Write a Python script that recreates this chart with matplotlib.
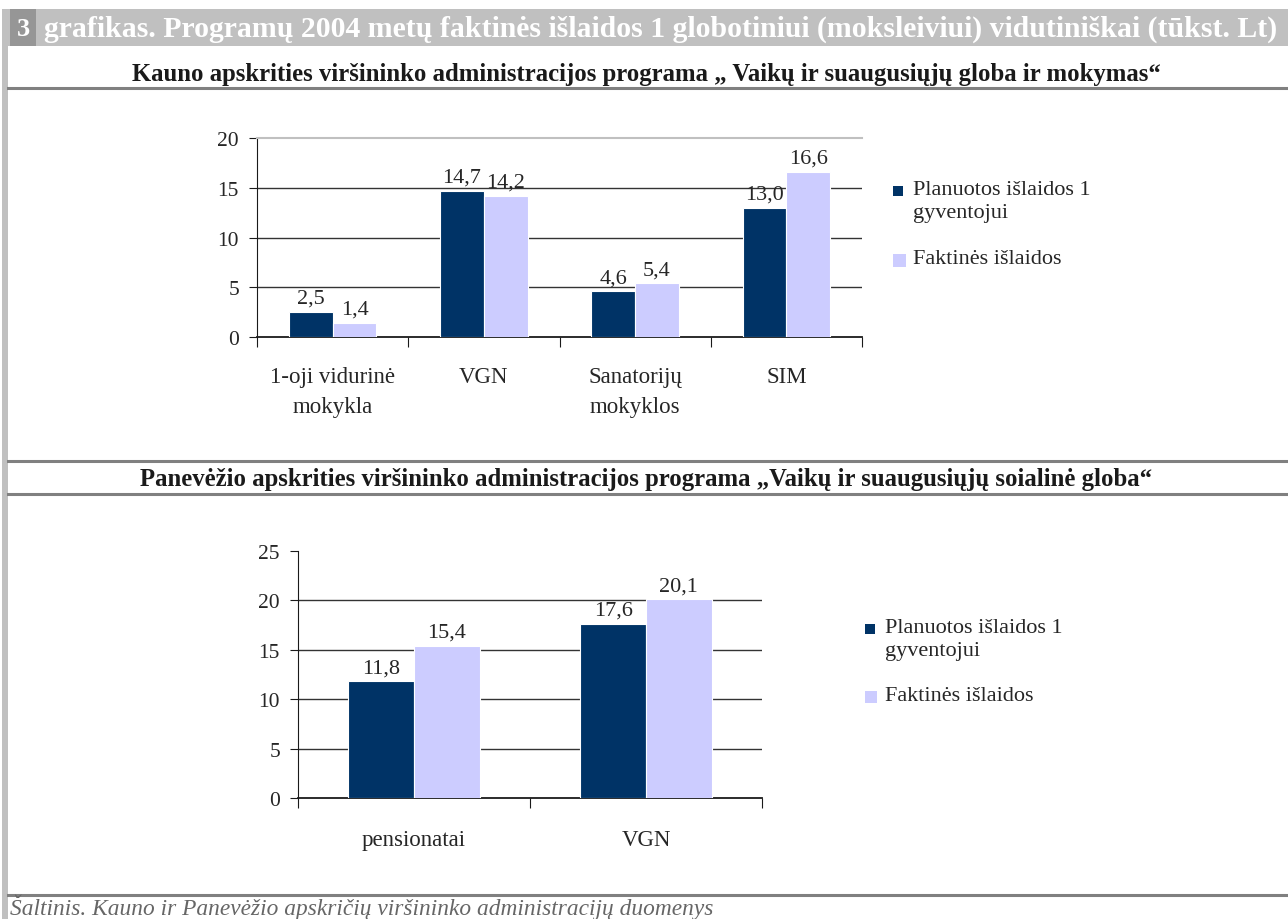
import matplotlib
matplotlib.use("Agg")
import matplotlib.pyplot as plt
import numpy as np
from matplotlib.patches import Rectangle
from matplotlib.lines import Line2D

plt.rcParams['font.family'] = ['Liberation Serif', 'DejaVu Serif']

# ---- data ----
header_num = "3"
header_text = "grafikas. Programų 2004 metų faktinės išlaidos 1 globotiniui (moksleiviui) vidutiniškai (tūkst. Lt)"
title1 = "Kauno apskrities viršininko administracijos programa „ Vaikų ir suaugusiųjų globa ir mokymas“"
title2 = "Panevėžio apskrities viršininko administracijos programa „Vaikų ir suaugusiųjų soialinė globa“"
source = "Šaltinis. Kauno ir Panevėžio apskričių viršininko administracijų duomenys"

series_names = ["Planuotos išlaidos 1\ngyventojui", "Faktinės išlaidos"]

cats1 = ["1-oji vidurinė\nmokykla", "VGN", "Sanatorijų\nmokyklos", "SIM"]
plan1 = [2.5, 14.7, 4.6, 13.0]
fakt1 = [1.4, 14.2, 5.4, 16.6]
yticks1 = [0, 5, 10, 15, 20]

cats2 = ["pensionatai", "VGN"]
plan2 = [11.8, 17.6]
fakt2 = [15.4, 20.1]
yticks2 = [0, 5, 10, 15, 20, 25]

DARK = "#003366"
LIGHT = "#CCCCFF"
GRID = "#333333"
TXT = "#262626"
FS_TICK = 15.5
FS_CAT = 16.5
FS_VAL = 16
FS_LEG = 16

W, H = 1288, 920
fig = plt.figure(figsize=(W / 100, H / 100), dpi=100)
fig.patch.set_facecolor("white")


def fx(px):
    return px / W


def fy(py):
    return 1 - py / H


# ---- frame decorations ----
fig.patches.append(Rectangle((fx(2), 0), fx(6), 1 - 10 / H, transform=fig.transFigure,
                             facecolor="#c0c0c0", edgecolor="none", zorder=0))
fig.patches.append(Rectangle((fx(8), fy(47)), fx(1280), 37 / H, transform=fig.transFigure,
                             facecolor="#c0c0c0", edgecolor="none", zorder=0))
fig.patches.append(Rectangle((fx(10), fy(47)), fx(26), 37 / H, transform=fig.transFigure,
                             facecolor="#969696", edgecolor="none", zorder=1))
fig.text(fx(23), fy(29), header_num, color="white", fontsize=19, fontweight="bold",
         ha="center", va="center")
fig.text(fx(44), fy(29), header_text, color="white", fontsize=21.4, fontweight="bold",
         ha="left", va="center")

for yy in [89, 462, 495, 896]:
    fig.add_artist(Line2D([fx(8), 1], [fy(yy), fy(yy)], transform=fig.transFigure,
                          color="#808080", linewidth=2.2))

fig.text(fx(646), fy(74), title1, color="#1a1a1a", fontsize=17.8, fontweight="bold",
         ha="center", va="center")
fig.text(fx(646), fy(480), title2, color="#1a1a1a", fontsize=17.8, fontweight="bold",
         ha="center", va="center")
fig.text(fx(10), fy(915), source, color="#666666", fontsize=16.8, style="italic",
         ha="left", va="baseline")


def fmt(v):
    return f"{v:.1f}".replace(".", ",")


def draw(ax, cats, plan, fakt, yticks, width, top_line, catpad):
    n = len(cats)
    x = np.arange(n)
    ax.bar(x - width / 2, plan, width, color=DARK, edgecolor="white", linewidth=0.8, zorder=3)
    ax.bar(x + width / 2, fakt, width, color=LIGHT, edgecolor="white", linewidth=0.8, zorder=3)
    ax.set_xlim(-0.5, n - 0.5)
    ax.set_ylim(yticks[0], yticks[-1])
    ax.set_yticks(yticks)
    ax.set_yticklabels([str(t) for t in yticks], fontsize=FS_TICK, color=TXT)
    for t in yticks[1:-1]:
        ax.axhline(t, color=GRID, linewidth=1.0, zorder=1)
    for s in ["top", "right"]:
        ax.spines[s].set_visible(False)
    if top_line:
        ax.spines["top"].set_visible(True)
        ax.spines["top"].set_color("#c0c0c0")
        ax.spines["top"].set_linewidth(1.5)
    ax.spines["left"].set_color("#1a1a1a")
    ax.spines["bottom"].set_color("#1a1a1a")
    ax.spines["bottom"].set_linewidth(1.3)
    ax.set_xticks(np.arange(n + 1) - 0.5)
    ax.set_xticklabels([""] * (n + 1))
    ax.tick_params(axis="x", which="major", length=7, direction="out", color="#1a1a1a")
    ax.set_xticks(x, minor=True)
    ax.set_xticklabels(cats, minor=True, fontsize=FS_CAT, color=TXT, linespacing=1.55)
    ax.tick_params(axis="x", which="minor", length=0, pad=catpad)
    ax.tick_params(axis="y", length=6, direction="out", pad=7, color="#1a1a1a")
    for xi, v in zip(x - width / 2, plan):
        ax.annotate(fmt(v), (xi, v), xytext=(0, 3), textcoords="offset points",
                    ha="center", va="bottom", fontsize=FS_VAL, color=TXT)
    for xi, v in zip(x + width / 2, fakt):
        ax.annotate(fmt(v), (xi, v), xytext=(0, 3), textcoords="offset points",
                    ha="center", va="bottom", fontsize=FS_VAL, color=TXT)
    ax.set_facecolor("none")


def legend(mx, tx, tops, sizes):
    colors = [DARK, LIGHT]
    for name, col, top, sz in zip(series_names, colors, tops, sizes):
        cy = top + 11
        fig.patches.append(Rectangle((fx(mx), fy(cy + sz / 2)), fx(sz), sz / H,
                                     transform=fig.transFigure, facecolor=col,
                                     edgecolor="none"))
        fig.text(fx(tx), fy(top), name, fontsize=FS_LEG, color=TXT, ha="left",
                 va="top", linespacing=1.3)


ax1 = fig.add_axes([fx(257), fy(338), fx(862 - 257), (338 - 139) / H])
draw(ax1, cats1, plan1, fakt1, yticks1, 0.29, True, 21)
legend(893, 913, [181, 250], [10, 13])

ax2 = fig.add_axes([fx(298), fy(799), fx(762 - 298), (799 - 552) / H])
draw(ax2, cats2, plan2, fakt2, yticks2, 0.283, False, 22)
legend(865, 885, [619, 687], [10, 12])

fig.savefig("out.png", dpi=100, facecolor="white")
